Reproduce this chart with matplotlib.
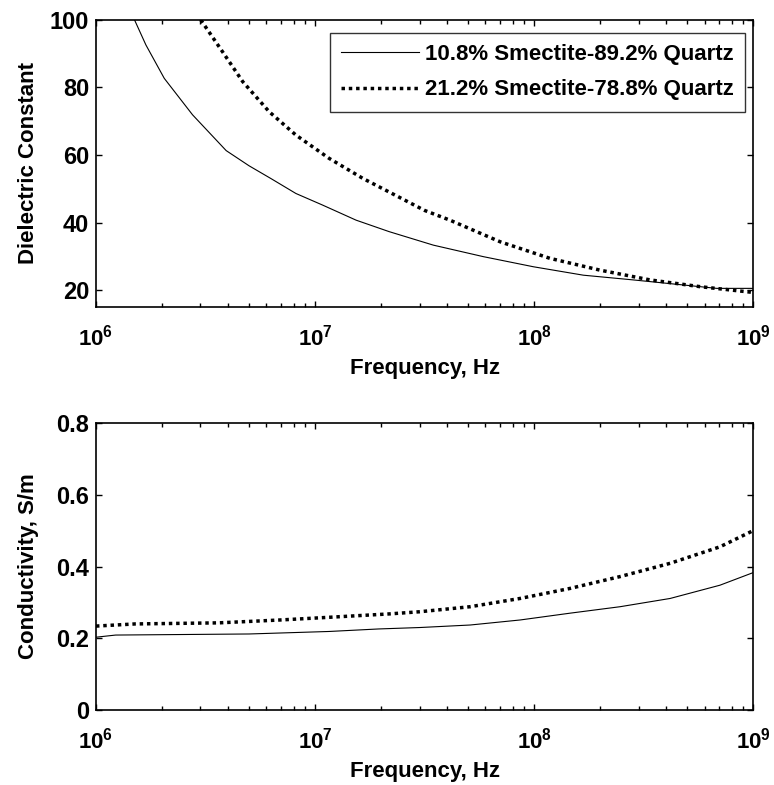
import matplotlib
matplotlib.use("Agg")
import matplotlib.pyplot as plt
from matplotlib.ticker import LogLocator, NullFormatter

plt.rcParams['font.family'] = ['Liberation Sans', 'DejaVu Sans']
plt.rcParams['font.weight'] = 'bold'
plt.rcParams['mathtext.fontset'] = 'custom'
plt.rcParams['mathtext.rm'] = 'Liberation Sans:bold'
plt.rcParams['mathtext.bf'] = 'Liberation Sans:bold'
plt.rcParams['mathtext.default'] = 'bf'

# ---- data ----
labels = ['10.8% Smectite-89.2% Quartz', '21.2% Smectite-78.8% Quartz']

f_diel_a = [1.45e6, 1.50e6, 1.69e6, 2.05e6, 2.76e6, 3.93e6, 5.0e6, 6.3e6, 8.18e6, 1.08e7, 1.54e7,
            2.18e7, 3.47e7, 5.86e7, 9.93e7, 1.68e8, 2.84e8, 4.81e8, 6.82e8, 1e9]
diel_a = [103.0, 100.0, 92.6, 82.7, 71.9, 61.3, 56.8, 53.0, 48.6, 45.2, 40.7,
          37.3, 33.3, 29.9, 26.9, 24.4, 23.0, 21.5, 20.5, 20.5]

f_diel_b = [2.92e6, 3.01e6, 3.78e6, 4.68e6, 6.18e6, 8.18e6, 1.16e7, 1.65e7, 2.34e7, 3.16e7,
            4.13e7, 7.0e7, 1.18e8, 2.0e8, 3.39e8, 5.73e8, 9.35e8, 1e9]
diel_b = [102.0, 100.0, 90.6, 81.7, 72.8, 65.9, 59.0, 53.1, 48.0, 43.6,
          40.7, 34.3, 29.4, 25.9, 23.0, 21.0, 19.5, 19.3]

f_cond_a = [1e6, 1.23e6, 5.0e6, 1.16e7, 1.95e7, 3.01e7, 5.11e7, 8.63e7, 1.46e8, 2.47e8,
            4.18e8, 7.06e8, 1e9]
cond_a = [0.203, 0.209, 0.212, 0.219, 0.226, 0.230, 0.237, 0.251, 0.270, 0.288,
          0.311, 0.348, 0.383]

f_cond_b = [1e6, 1.51e6, 3.63e6, 6.92e6, 1.12e7, 2.19e7, 3.01e7, 5.11e7, 8.63e7, 1.46e8,
            2.47e8, 4.18e8, 7.06e8, 1e9]
cond_b = [0.234, 0.240, 0.243, 0.251, 0.258, 0.268, 0.274, 0.288, 0.311, 0.339,
          0.372, 0.409, 0.455, 0.500]

diel_yticks = [20, 40, 60, 80, 100]
cond_yticks = [0, 0.2, 0.4, 0.6, 0.8]
cond_yticklabels = ['0', '0.2', '0.4', '0.6', '0.8']

fig = plt.figure(figsize=(7.74, 7.85), dpi=100)
ax1 = fig.add_axes([0.124, 0.609, 0.849, 0.3656])
ax2 = fig.add_axes([0.124, 0.0955, 0.849, 0.3656])

solid_kw = dict(color='black', lw=0.8, linestyle='-')
dot_kw = dict(color='black', lw=2.5, linestyle=(0, (1, 1.1)))

ax1.plot(f_diel_a, diel_a, label=labels[0], **solid_kw)
ax1.plot(f_diel_b, diel_b, label=labels[1], **dot_kw)
ax2.plot(f_cond_a, cond_a, **solid_kw)
ax2.plot(f_cond_b, cond_b, **dot_kw)

ax1.set_ylim(15, 100)
ax1.set_yticks(diel_yticks)
ax2.set_ylim(0, 0.8)
ax2.set_yticks(cond_yticks)
ax2.set_yticklabels(cond_yticklabels)

for ax in (ax1, ax2):
    ax.set_xscale('log')
    ax.set_xlim(1e6, 1e9)
    ax.xaxis.set_major_locator(LogLocator(base=10, numticks=10))
    ax.xaxis.set_minor_locator(LogLocator(base=10, subs=range(2, 10), numticks=20))
    ax.xaxis.set_minor_formatter(NullFormatter())
    ax.tick_params(which='both', direction='in', top=True, right=True, width=1.0)
    ax.tick_params(which='major', length=4)
    ax.tick_params(which='minor', length=3)
    ax.tick_params(axis='x', labelsize=16, pad=13)
    ax.tick_params(axis='y', labelsize=17, pad=5)
    for s in ax.spines.values():
        s.set_linewidth(1.2)
    ax.set_xlabel('Frequency, Hz', fontsize=16, fontweight='bold', labelpad=5)

ax1.set_ylabel('Dielectric Constant', fontsize=16, fontweight='bold', labelpad=8)
ax2.set_ylabel('Conductivity, S/m', fontsize=16, fontweight='bold', labelpad=12)

leg = ax1.legend(loc='upper right', bbox_to_anchor=(0.988, 0.955), borderaxespad=0,
                 fontsize=16, frameon=True, fancybox=False, handlelength=3.5,
                 handletextpad=0.3, borderpad=0.5, labelspacing=0.65)
leg.get_frame().set_edgecolor('black')
leg.get_frame().set_linewidth(1.0)
for t in leg.get_texts():
    t.set_fontweight('bold')

fig.savefig('out.png', dpi=100)
